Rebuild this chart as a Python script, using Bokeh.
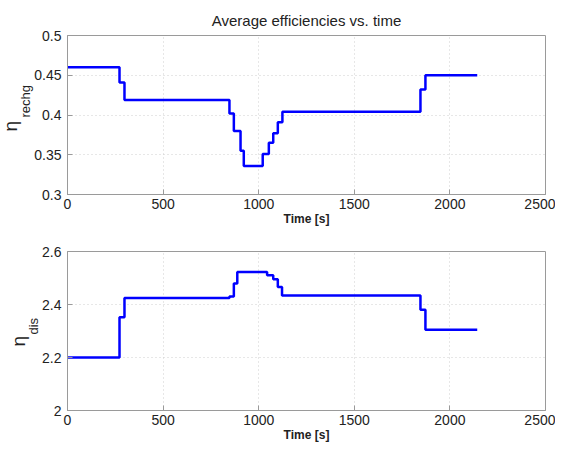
from bokeh.plotting import figure
from bokeh.models import Range1d, FixedTicker, Title
from bokeh.layouts import column
from bokeh.embed import file_html
from bokeh.resources import INLINE

# ---- data ----
t_rechg = [0, 272, 298, 847, 870, 905, 922, 1021, 1053, 1076, 1100, 1124, 1846, 1872, 2143]
eta_rechg = [0.460, 0.441, 0.419, 0.402, 0.380, 0.355, 0.336, 0.351, 0.365, 0.377, 0.391, 0.404, 0.432, 0.450, 0.450]

t_dis = [0, 272, 298, 847, 870, 888, 1044, 1076, 1100, 1122, 1846, 1872, 2143]
eta_dis = [2.200, 2.352, 2.425, 2.430, 2.479, 2.523, 2.510, 2.495, 2.466, 2.434, 2.380, 2.305, 2.305]

x_ticks = [0, 500, 1000, 1500, 2000, 2500]
y_ticks_rechg = [0.3, 0.35, 0.4, 0.45, 0.5]
y_labels_rechg = ["0.3", "0.35", "0.4", "0.45", "0.5"]
y_ticks_dis = [2.0, 2.2, 2.4, 2.6]
y_labels_dis = ["2", "2.2", "2.4", "2.6"]

FONT = "Liberation Sans"
W = 555
TXT = "#222222"


def make_fig(height, top_border, bottom_border, yr, yt, yl, title=None):
    p = figure(width=W, height=height, output_backend="svg", toolbar_location=None,
               x_range=Range1d(0, 2500), y_range=Range1d(yr[0], yr[1]),
               min_border_left=67, min_border_right=10,
               min_border_top=top_border, min_border_bottom=bottom_border,
               title=title)
    p.background_fill_color = "white"
    p.border_fill_color = "white"
    p.outline_line_color = "#9a9a9a"
    p.outline_line_width = 1
    if title:
        p.title.text_font = FONT
        p.title.text_font_size = "15px"
        p.title.text_font_style = "normal"
        p.title.align = "center"
        p.title.text_color = TXT
        p.title.standoff = 13
    p.xaxis.ticker = FixedTicker(ticks=x_ticks)
    p.yaxis.ticker = FixedTicker(ticks=yt)
    p.yaxis.major_label_overrides = {v: s for v, s in zip(yt, yl)}
    p.xaxis.major_label_overrides = {v: str(v) for v in x_ticks}
    for ax in (p.xaxis[0], p.yaxis[0]):
        ax.major_tick_in = 5
        ax.major_tick_out = 0
        ax.minor_tick_line_color = None
        ax.axis_line_color = "#9a9a9a"
        ax.major_tick_line_color = "#9a9a9a"
        ax.major_label_text_font = FONT
        ax.major_label_text_font_size = "14px"
        ax.major_label_text_color = TXT
    p.xaxis.major_label_standoff = 4
    p.yaxis.major_label_standoff = 6
    p.xaxis.axis_label = "Time [s]"
    p.xaxis.axis_label_text_font = FONT
    p.xaxis.axis_label_text_font_size = "12px"
    p.xaxis.axis_label_text_font_style = "bold"
    p.xaxis.axis_label_text_color = TXT
    p.xaxis.axis_label_standoff = 0
    p.grid.grid_line_color = "#cfcfcf"
    p.grid.grid_line_dash = "1 3"
    p.grid.grid_line_width = 1
    return p


def add_ylabel(p, sub, sub_offset, eta_offset):
    # subscript panel (closest to axis), then the eta symbol further out
    p.add_layout(Title(text=sub, align="left", offset=sub_offset, text_font=FONT,
                       text_font_size="13px", text_font_style="normal",
                       text_color=TXT, standoff=-3), "left")
    p.add_layout(Title(text="η", align="left", offset=eta_offset, text_font=FONT,
                       text_font_size="19px", text_font_style="normal",
                       text_color=TXT, standoff=-6), "left")


p1 = make_fig(233, 35, 39, (0.3, 0.5), y_ticks_rechg, y_labels_rechg,
              title="Average efficiencies vs. time")
p1.step(t_rechg, eta_rechg, mode="after", line_color="#0000ff", line_width=2.5)
add_ylabel(p1, "rechg", 77, 63)

p2 = make_fig(213, 18, 36, (2.0, 2.6), y_ticks_dis, y_labels_dis)
p2.step(t_dis, eta_dis, mode="after", line_color="#0000ff", line_width=2.5)
add_ylabel(p2, "dis", 76, 64)

layout = column(p1, p2, spacing=0)
open("out.html", "w").write(file_html(layout, INLINE))
